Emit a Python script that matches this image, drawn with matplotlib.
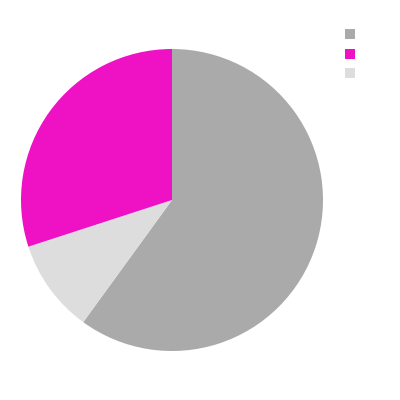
import matplotlib
matplotlib.use("Agg")
import matplotlib.pyplot as plt
from matplotlib.patches import Patch

values = [60, 10, 30]
colors = ["#aaaaaa", "#dddddd", "#ef12c4"]
legend_labels = ["", "", ""]
legend_colors = ["#aaaaaa", "#ef12c4", "#dddddd"]

fig = plt.figure(figsize=(4, 4), dpi=100)
ax = fig.add_axes([21/400, 49/400, 302/400, 302/400])
ax.pie(values, colors=colors, startangle=90, counterclock=False,
       wedgeprops=dict(linewidth=0))
ax.set_xlim(-1, 1)
ax.set_ylim(-1, 1)
ax.set_aspect("equal")

handles = [Patch(facecolor=c, edgecolor="none") for c in legend_colors]
fig.legend(handles, legend_labels, loc="upper left", bbox_to_anchor=(344.5/400, 1 - 28/400),
           frameon=False, handlelength=0.76, handleheight=0.76, labelspacing=0.4,
           borderpad=0, borderaxespad=0, handletextpad=0.2, fontsize=10)
fig.savefig("out.png", dpi=100)
